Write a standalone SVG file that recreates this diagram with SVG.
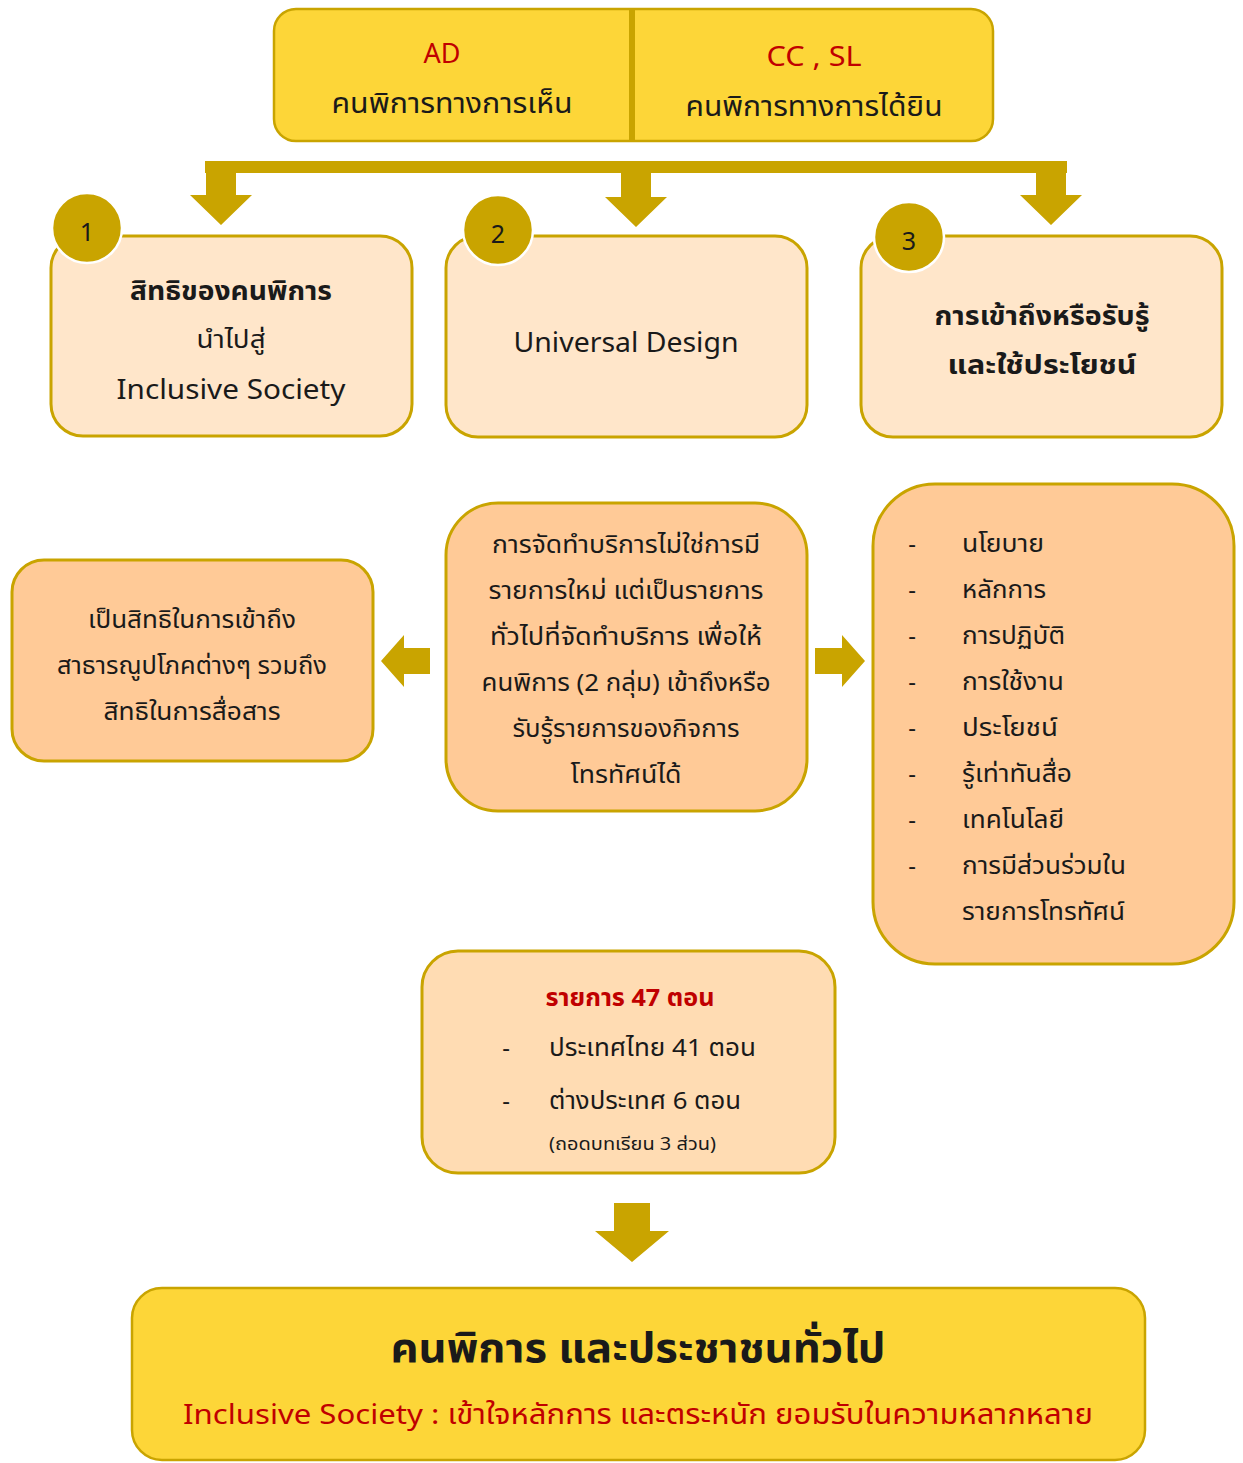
<svg xmlns="http://www.w3.org/2000/svg" width="1243" height="1463" viewBox="0 0 1243 1463">
<style>
text{font-family:"Noto Sans","Noto Sans Thai","DejaVu Sans",sans-serif;fill:#1a1a1a;text-anchor:middle}
.yel{fill:#FDD638;stroke:#C9A400;stroke-width:2.5}
.lt{fill:#FFE6CA;stroke:#C9A400;stroke-width:3}
.or{fill:#FFCA97;stroke:#C9A400;stroke-width:3}
.md{fill:#FFDCB3;stroke:#C9A400;stroke-width:3}
.arr{fill:#C9A400}
.circ{fill:#C9A400;stroke:#ffffff;stroke-width:2.5}
.red{fill:#C00000}
.b{font-weight:bold}
.st{text-anchor:start}
</style>
<g id="connectors">
<rect class="arr" x="205" y="161" width="862" height="12"/>
<polygon class="arr" points="206,173 236,173 236,195 252,195 221,225 190,195 206,195"/>
<polygon class="arr" points="621,173 651,173 651,197 667,197 636,227 605,197 621,197"/>
<polygon class="arr" points="1036,173 1066,173 1066,195 1082,195 1051,225 1020,195 1036,195"/>
<polygon class="arr" points="430,648 404,648 404,635 381,661 404,687 404,674 430,674"/>
<polygon class="arr" points="815,648 842,648 842,635 865,661 842,687 842,674 815,674"/>
<polygon class="arr" points="614,1203 650,1203 650,1231 669,1231 632,1262 595,1231 614,1231"/>
</g>
<g id="top">
<rect class="yel" x="274" y="9" width="719" height="132" rx="22"/>
<rect x="629" y="9" width="6" height="132" fill="#C9A400"/>
<text class="red" x="442" y="63" font-size="27">AD</text>
<text x="452" y="113" font-size="28" textLength="241" lengthAdjust="spacingAndGlyphs">คนพิการทางการเห็น</text>
<text class="red" x="814" y="66" font-size="28" textLength="95" lengthAdjust="spacingAndGlyphs">CC , SL</text>
<text x="814" y="116" font-size="28" textLength="257" lengthAdjust="spacingAndGlyphs">คนพิการทางการได้ยิน</text>
</g>
<g id="box1">
<rect class="lt" x="51" y="236" width="361" height="200" rx="32"/>
<text class="b" x="231" y="300" font-size="27" textLength="202" lengthAdjust="spacingAndGlyphs">สิทธิของคนพิการ</text>
<text x="231" y="348" font-size="24" textLength="69" lengthAdjust="spacingAndGlyphs">นำไปสู่</text>
<text x="231" y="399" font-size="28" textLength="229" lengthAdjust="spacingAndGlyphs">Inclusive Society</text>
<circle class="circ" cx="87" cy="228" r="35"/>
<text x="87" y="241" font-size="25">1</text>
</g>
<g id="box2">
<rect class="lt" x="446" y="236" width="361" height="201" rx="32"/>
<text x="626" y="352" font-size="28" textLength="225" lengthAdjust="spacingAndGlyphs">Universal Design</text>
<circle class="circ" cx="498" cy="230" r="35"/>
<text x="498" y="243" font-size="25">2</text>
</g>
<g id="box3">
<rect class="lt" x="861" y="236" width="361" height="201" rx="32"/>
<text class="b" x="1042" y="325" font-size="27" textLength="215" lengthAdjust="spacingAndGlyphs">การเข้าถึงหรือรับรู้</text>
<text class="b" x="1042" y="374" font-size="27" textLength="189" lengthAdjust="spacingAndGlyphs">และใช้ประโยชน์</text>
<circle class="circ" cx="909" cy="237" r="35"/>
<text x="909" y="250" font-size="25">3</text>
</g>
<g id="leftbox">
<rect class="or" x="12" y="560" width="361" height="201" rx="32"/>
<text x="192" y="628" font-size="24" textLength="208" lengthAdjust="spacingAndGlyphs">เป็นสิทธิในการเข้าถึง</text>
<text x="192" y="674" font-size="24" textLength="270" lengthAdjust="spacingAndGlyphs">สาธารณูปโภคต่างๆ รวมถึง</text>
<text x="192" y="720" font-size="24" textLength="177" lengthAdjust="spacingAndGlyphs">สิทธิในการสื่อสาร</text>
</g>
<g id="centerbox">
<rect class="or" x="446" y="503" width="361" height="308" rx="52"/>
<text x="626" y="553" font-size="24" textLength="268" lengthAdjust="spacingAndGlyphs">การจัดทำบริการไม่ใช่การมี</text>
<text x="626" y="599" font-size="24" textLength="275" lengthAdjust="spacingAndGlyphs">รายการใหม่ แต่เป็นรายการ</text>
<text x="626" y="645" font-size="24" textLength="272" lengthAdjust="spacingAndGlyphs">ทั่วไปที่จัดทำบริการ เพื่อให้</text>
<text x="626" y="691" font-size="24" textLength="289" lengthAdjust="spacingAndGlyphs">คนพิการ (2 กลุ่ม) เข้าถึงหรือ</text>
<text x="626" y="737" font-size="24" textLength="227" lengthAdjust="spacingAndGlyphs">รับรู้รายการของกิจการ</text>
<text x="626" y="783" font-size="24" textLength="111" lengthAdjust="spacingAndGlyphs">โทรทัศน์ได้</text>
</g>
<g id="rightbox">
<rect class="or" x="873" y="484" width="361" height="480" rx="62"/>
<g font-size="24">
<text x="912" y="552">-</text><text class="st" x="962" y="552" textLength="82" lengthAdjust="spacingAndGlyphs">นโยบาย</text>
<text x="912" y="598">-</text><text class="st" x="962" y="598" textLength="84" lengthAdjust="spacingAndGlyphs">หลักการ</text>
<text x="912" y="644">-</text><text class="st" x="962" y="644" textLength="103" lengthAdjust="spacingAndGlyphs">การปฏิบัติ</text>
<text x="912" y="690">-</text><text class="st" x="962" y="690" textLength="102" lengthAdjust="spacingAndGlyphs">การใช้งาน</text>
<text x="912" y="736">-</text><text class="st" x="962" y="736" textLength="96" lengthAdjust="spacingAndGlyphs">ประโยชน์</text>
<text x="912" y="782">-</text><text class="st" x="962" y="782" textLength="110" lengthAdjust="spacingAndGlyphs">รู้เท่าทันสื่อ</text>
<text x="912" y="828">-</text><text class="st" x="962" y="828" textLength="102" lengthAdjust="spacingAndGlyphs">เทคโนโลยี</text>
<text x="912" y="874">-</text><text class="st" x="962" y="874" textLength="164" lengthAdjust="spacingAndGlyphs">การมีส่วนร่วมใน</text>
<text class="st" x="962" y="920" textLength="163" lengthAdjust="spacingAndGlyphs">รายการโทรทัศน์</text>
</g>
</g>
<g id="episodes">
<rect class="md" x="422" y="951" width="413" height="222" rx="36"/>
<text class="red b" x="630" y="1006" font-size="24" textLength="169" lengthAdjust="spacingAndGlyphs">รายการ 47 ตอน</text>
<text x="506" y="1056" font-size="24">-</text>
<text class="st" x="549" y="1056" font-size="24" textLength="207" lengthAdjust="spacingAndGlyphs">ประเทศไทย 41 ตอน</text>
<text x="506" y="1109" font-size="24">-</text>
<text class="st" x="549" y="1109" font-size="24" textLength="192" lengthAdjust="spacingAndGlyphs">ต่างประเทศ 6 ตอน</text>
<text class="st" x="549" y="1150" font-size="18" textLength="167" lengthAdjust="spacingAndGlyphs">(ถอดบทเรียน 3 ส่วน)</text>
</g>
<g id="bottom">
<rect class="yel" x="132" y="1288" width="1013" height="172" rx="30"/>
<text class="b" x="638" y="1362" font-size="40" textLength="495" lengthAdjust="spacingAndGlyphs">คนพิการ และประชาชนทั่วไป</text>
<text class="red" x="638" y="1424" font-size="28" textLength="910" lengthAdjust="spacingAndGlyphs">Inclusive Society : เข้าใจหลักการ และตระหนัก ยอมรับในความหลากหลาย</text>
</g>
</svg>
